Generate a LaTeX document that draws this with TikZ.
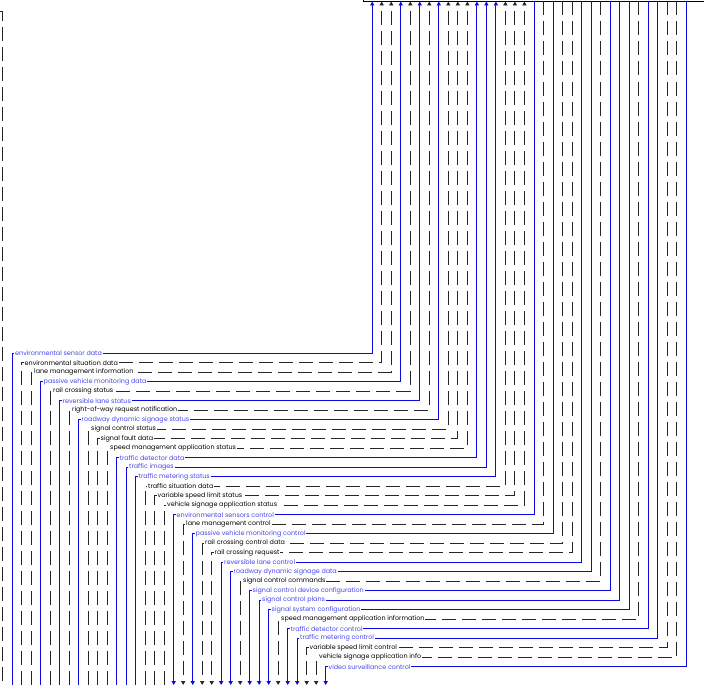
\documentclass[tikz,border=0pt]{standalone}
\usepackage{fontspec}
\setmainfont{Poppins}
\usetikzlibrary{arrows.meta}
\definecolor{fblue}{RGB}{10,10,225}
\definecolor{tblue}{RGB}{70,70,235}
\tikzset{
  flowb/.style={draw=fblue, line width=0.9pt},
  flowk/.style={draw=black!85, line width=0.9pt, dash pattern=on 14pt off 6pt},
  lbl/.style={anchor=west, fill=white, inner xsep=0.8pt, inner ysep=0.3pt, font=\fontsize{6.4}{7}\selectfont},
  lblb/.style={lbl, text=tblue},
  lblk/.style={lbl, text=black},
  tipb/.style={-{Triangle[length=4pt,width=4.2pt]}},
  tipk/.style={-{Triangle[length=4pt,width=4.2pt]}}
}
\begin{document}
\begin{tikzpicture}[x=1pt,y=-1pt]
\useasboundingbox (0,0) rectangle (704,685);
% box edge at top right
\coordinate (bx1) at (363,-5);
\coordinate (bx2) at (363,1);
\coordinate (bx3) at (710,1);
\draw[line width=0.9pt] (bx1) -- (bx2) -- (bx3);
% left dashed connector
\coordinate (e1) at (-2,11);
\coordinate (e2) at (2,690);
\draw[flowk] (e1) -| (e2);
\foreach \i/\t/\c in {
 1/environmental sensor data/b,
 2/environmental situation data/k,
 3/lane management information/k,
 4/passive vehicle monitoring data/b,
 5/rail crossing status/k,
 6/reversible lane status/b,
 7/right-of-way request notification/k,
 8/roadway dynamic signage status/b,
 9/signal control status/k,
 10/signal fault data/k,
 11/speed management application status/k,
 12/traffic detector data/b,
 13/traffic images/b,
 14/traffic metering status/b,
 15/traffic situation data/k,
 16/variable speed limit status/k,
 17/vehicle signage application status/k,
 18/environmental sensors control/b,
 19/lane management control/k,
 20/passive vehicle monitoring control/b,
 21/rail crossing control data/k,
 22/rail crossing request/k,
 23/reversible lane control/b,
 24/roadway dynamic signage data/b,
 25/signal control commands/k,
 26/signal control device configuration/b,
 27/signal control plans/b,
 28/signal system configuration/b,
 29/speed management application information/k,
 30/traffic detector control/b,
 31/traffic metering control/b,
 32/variable speed limit control/k,
 33/vehicle signage application info/k,
 34/video surveillance control/b}
{
  \pgfmathsetmacro\xl{12.2+9.5*(\i-1)}
  \pgfmathsetmacro\yy{353.2+9.5*(\i-1)}
  \pgfmathsetmacro\xc{372.2+9.515*(\i-1)}
  \coordinate (L\i) at (\xl,685);
  \coordinate (A\i) at (\xl,\yy);
  \coordinate (B\i) at (\xc,\yy);
  \coordinate (T\i) at (\xc,1.5);
  \ifnum\i<18
    \draw[flow\c, tip\c] (L\i) -- (A\i) -- (B\i) -- (T\i);
  \else
    \draw[flow\c, tip\c] (T\i) -- (B\i) -- (A\i) -- (L\i);
  \fi
  \node[lbl\c] (n\i) at ([xshift=2pt]A\i) {\t};
}
\end{tikzpicture}
\end{document}
